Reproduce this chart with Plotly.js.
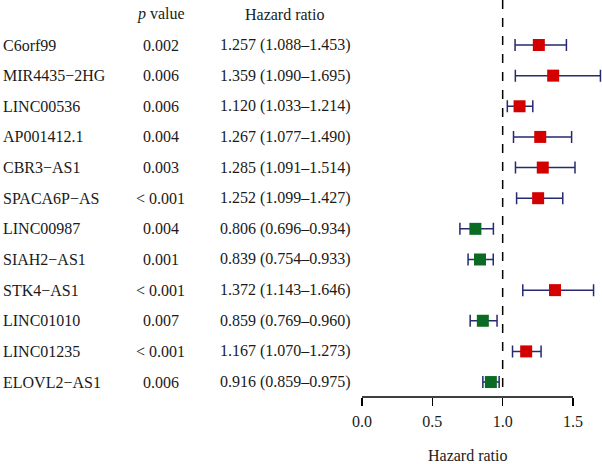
<!DOCTYPE html>
<html>
<head>
<meta charset="utf-8">
<script src="https://cdn.plot.ly/plotly-3.0.1.min.js"></script>
<style>html,body{margin:0;padding:0;background:#fff;}#chart{width:602px;height:464px;}</style>
</head>
<body>
<div id="chart"></div>
<script>
const genes = ['C6orf99','MIR4435\u22122HG','LINC00536','AP001412.1','CBR3\u2212AS1','SPACA6P\u2212AS','LINC00987','SIAH2\u2212AS1','STK4\u2212AS1','LINC01010','LINC01235','ELOVL2\u2212AS1'];
const pValues = ['0.002','0.006','0.006','0.004','0.003','< 0.001','0.004','0.001','< 0.001','0.007','< 0.001','0.006'];
const hazardRatio = [1.257,1.359,1.120,1.267,1.285,1.252,0.806,0.839,1.372,0.859,1.167,0.916];
const ciLower = [1.088,1.090,1.033,1.077,1.091,1.099,0.696,0.754,1.143,0.769,1.070,0.859];
const ciUpper = [1.453,1.695,1.214,1.490,1.514,1.427,0.934,0.933,1.646,0.960,1.273,0.975];
const xTicks = [0, 0.5, 1, 1.5];
const xTickLabels = ['0.0','0.5','1.0','1.5'];

const FONT = 'Liberation Serif, Times New Roman, serif';
const rows = genes.map((g, i) => i + 1);
const RED = '#D40000', GREEN = '#0A6B22', NAVY = '#262A6E';

const trace = {
  type: 'scatter', mode: 'markers',
  x: hazardRatio, y: rows,
  marker: {symbol: 'square', size: 12, color: hazardRatio.map(v => v > 1 ? RED : GREEN), line: {width: 0}},
  error_x: {type: 'data', symmetric: false,
    array: hazardRatio.map((v, i) => ciUpper[i] - v),
    arrayminus: hazardRatio.map((v, i) => v - ciLower[i]),
    color: NAVY, thickness: 1.5, width: 6},
  hoverinfo: 'skip', showlegend: false
};

const annotations = [];
const txt = (text, x, xref, y, anchor) => annotations.push({text, x, xref, y, yref: 'y', xanchor: anchor, yanchor: 'middle', showarrow: false, font: {family: FONT, size: 16, color: '#1a1a1a'}});
txt('<i>p</i> value', 161/602, 'paper', 0, 'center');
txt('Hazard ratio', 285/602, 'paper', 0, 'center');
genes.forEach((g, i) => {
  txt(g, 1/602, 'paper', rows[i], 'left');
  txt(pValues[i], 161/602, 'paper', rows[i], 'center');
  txt(hazardRatio[i].toFixed(3) + ' (' + ciLower[i].toFixed(3) + '\u2013' + ciUpper[i].toFixed(3) + ')', 285/602, 'paper', rows[i], 'center');
});
annotations.push({text: 'Hazard ratio', x: 0.75, xref: 'x', y: 0, yref: 'paper', yshift: -58, xanchor: 'center', yanchor: 'middle', showarrow: false, font: {family: FONT, size: 16, color: '#1a1a1a'}});

const layout = {
  width: 602, height: 464,
  margin: {l: 0, r: 0, t: 0, b: 67, pad: 0},
  paper_bgcolor: '#fff', plot_bgcolor: '#fff',
  xaxis: {range: [-2.573, 1.706], tickvals: xTicks, ticktext: xTickLabels, ticks: 'outside', ticklen: 8, tickwidth: 1.5, tickcolor: '#000',
    showline: false, zeroline: false, showgrid: false, fixedrange: true, ticklabelstandoff: 2,
    tickfont: {family: FONT, size: 16, color: '#1a1a1a'}},
  yaxis: {range: [12.488, -0.4687], visible: false, showgrid: false, zeroline: false, fixedrange: true},
  shapes: [
    {type: 'line', xref: 'x', yref: 'paper', x0: 0, x1: 1.5, y0: 0, y1: 0, line: {color: '#000', width: 1.5}},
    {type: 'line', xref: 'x', yref: 'y', x0: 1, x1: 1, y0: -0.4687, y1: 12.325, line: {color: '#000', width: 1.5, dash: 'dash'}}
  ],
  annotations
};

Plotly.newPlot('chart', [trace], layout, {displayModeBar: false, staticPlot: true});
</script>
</body>
</html>
